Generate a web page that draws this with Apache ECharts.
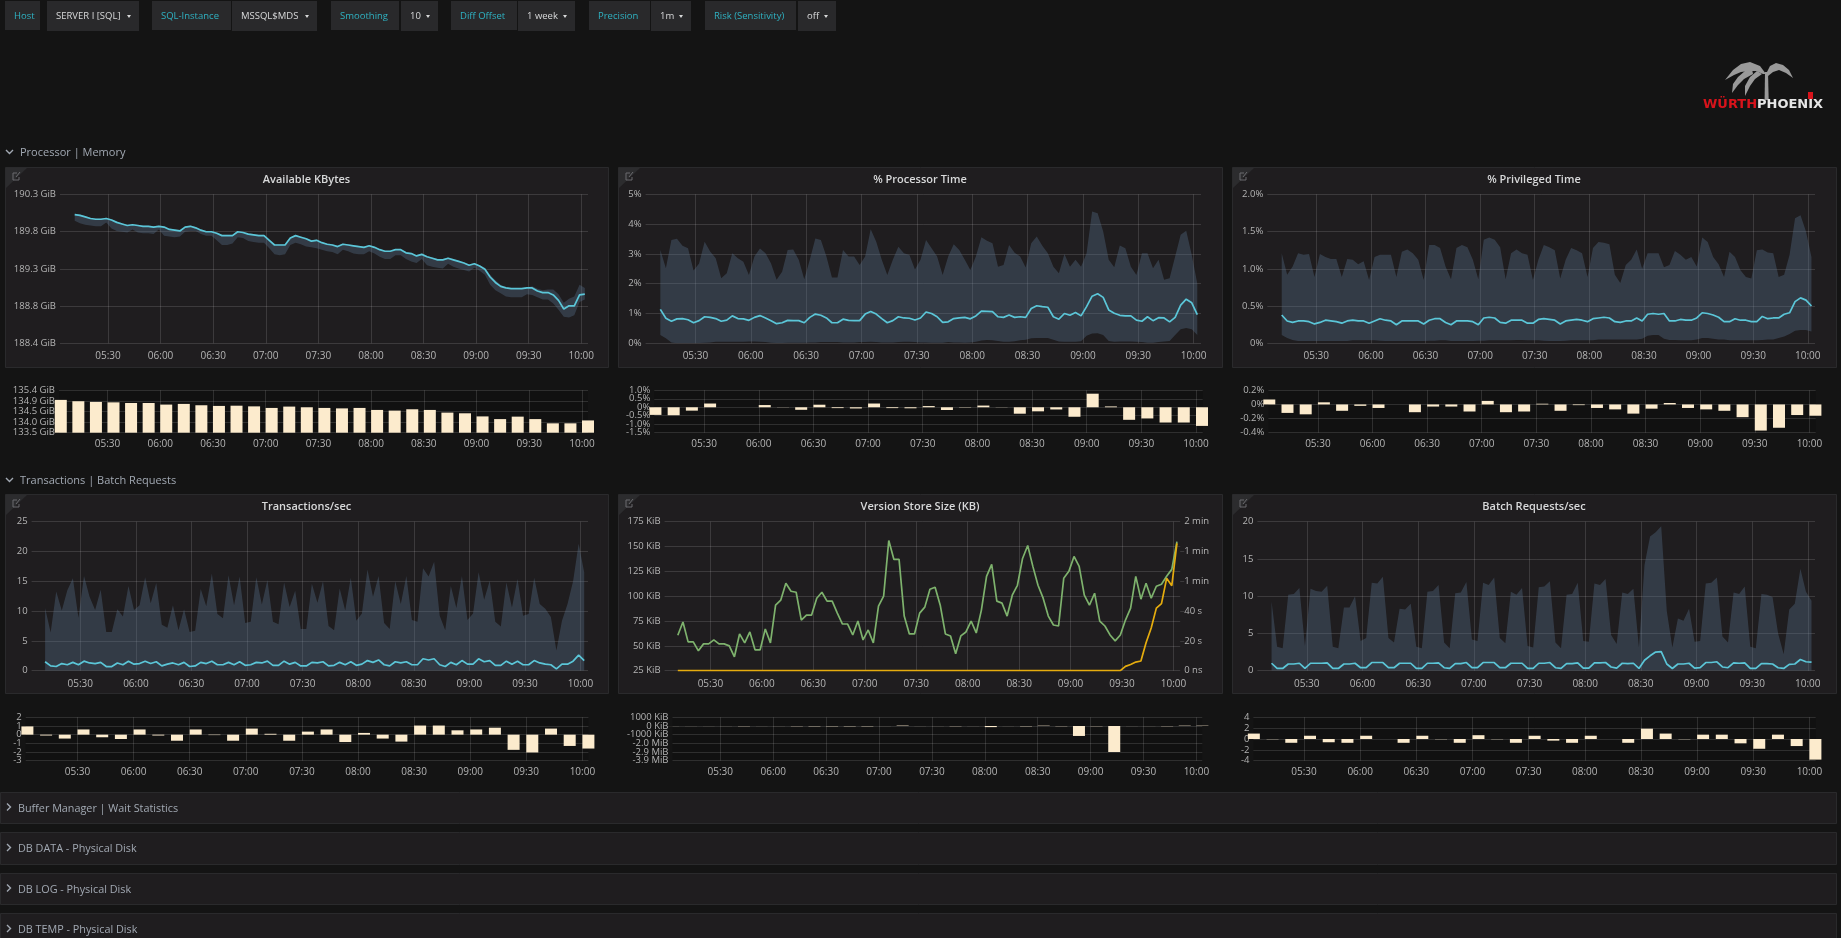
<!DOCTYPE html>
<html>
<head>
<meta charset="utf-8">
<title>SQL Server dashboard</title>
<script src="https://cdn.jsdelivr.net/npm/echarts@6/dist/echarts.min.js"></script>
<style>
html,body{margin:0;padding:0;background:#141414;overflow:hidden}
#main{width:1841px;height:938px}
</style>
</head>
<body>
<div id="main"></div>
<script>
// x ticks, minutes after midnight
var timeTicks = [330,360,390,420,450,480,510,540,570,600];
var timeLabels = ['05:30','06:00','06:30','07:00','07:30','08:00','08:30','09:00','09:30','10:00'];
var firstSample = 311, sampleStep = 3;
var firstBar = 300, barStep = 10;

var availTicks = [188.36,188.84,189.31,189.79,190.27];
var availLabels = ['188.4 GiB','188.8 GiB','189.3 GiB','189.8 GiB','190.3 GiB'];
var availLine = [190.01,190.00,189.98,189.96,189.95,189.95,189.96,189.94,189.91,189.89,
189.87,189.88,189.87,189.86,189.86,189.85,189.86,189.85,189.82,189.81,
189.80,189.85,189.86,189.84,189.81,189.79,189.79,189.77,189.74,189.74,
189.74,189.79,189.78,189.76,189.75,189.74,189.74,189.68,189.62,189.62,
189.62,189.71,189.74,189.72,189.70,189.67,189.68,189.65,189.63,189.62,
189.60,189.63,189.62,189.61,189.60,189.59,189.61,189.59,189.56,189.54,
189.54,189.56,189.56,189.52,189.51,189.48,189.50,189.47,189.45,189.43,
189.43,189.45,189.43,189.41,189.39,189.36,189.38,189.35,189.31,189.21,
189.14,189.09,189.07,189.06,189.06,189.06,189.07,189.07,189.03,189.01,
189.01,188.98,188.91,188.80,188.84,188.84,188.98,188.99];
var availUpper = [190.02,190.01,189.99,189.97,189.96,189.96,189.97,189.95,189.92,189.90,
189.88,189.89,189.88,189.87,189.87,189.86,189.87,189.86,189.83,189.82,
189.81,189.86,189.87,189.85,189.82,189.80,189.80,189.78,189.75,189.75,
189.75,189.80,189.79,189.77,189.76,189.75,189.75,189.69,189.63,189.63,
189.63,189.72,189.75,189.73,189.71,189.68,189.69,189.66,189.64,189.63,
189.61,189.64,189.63,189.62,189.61,189.60,189.62,189.60,189.57,189.55,
189.55,189.57,189.57,189.53,189.52,189.49,189.51,189.48,189.46,189.44,
189.44,189.46,189.44,189.42,189.40,189.37,189.39,189.36,189.33,189.24,
189.17,189.11,189.08,189.07,189.07,189.07,189.08,189.09,189.06,189.04,
189.05,189.05,188.99,188.88,188.93,188.96,189.11,189.07];
var availLower = [189.93,189.90,189.88,189.87,189.86,189.86,189.91,189.83,189.80,189.79,
189.78,189.82,189.78,189.77,189.77,189.76,189.82,189.74,189.73,189.72,
189.73,189.79,189.80,189.80,189.76,189.74,189.74,189.68,189.62,189.62,
189.64,189.72,189.71,189.67,189.66,189.65,189.65,189.58,189.50,189.49,
189.50,189.62,189.65,189.63,189.60,189.59,189.58,189.56,189.54,189.53,
189.50,189.56,189.54,189.51,189.50,189.50,189.54,189.51,189.47,189.44,
189.44,189.49,189.49,189.44,189.41,189.39,189.44,189.36,189.34,189.33,
189.32,189.38,189.34,189.32,189.30,189.28,189.33,189.29,189.24,189.11,
189.04,189.00,188.96,188.95,188.95,188.95,188.99,188.98,188.95,188.92,
188.92,188.87,188.79,188.70,188.69,188.72,188.89,188.92];
var availBarTicks = [133.5,133.97,134.46,134.92,135.4];
var availBarLabels = ['133.5 GiB','134.0 GiB','134.5 GiB','134.9 GiB','135.4 GiB'];
var availBars = [134.97,134.91,134.88,134.86,134.83,134.83,134.76,134.79,134.73,134.70,134.71,
134.68,134.61,134.67,134.64,134.61,134.59,134.61,134.52,134.49,134.55,
134.52,134.40,134.37,134.23,134.11,134.22,134.11,133.92,133.92,134.05];

var cpuTicks = [0,1,2,3,4,5];
var cpuLabels = ['0%','1%','2%','3%','4%','5%'];
var cpuLine = [1.14,.84,.74,.82,.83,.79,.69,.76,.89,.87,
.83,.74,.78,.92,.83,.82,.77,.87,.93,.85,
.76,.66,.69,.77,.76,.76,.69,.87,.98,.94,
.85,.69,.69,.81,.77,.76,.76,.98,1.07,.98,
.83,.69,.76,.89,.85,.84,.78,.85,1.05,1.0,
.89,.70,.72,.83,.85,.87,.82,.92,1.08,1.07,
1.06,.89,.87,.95,.87,.89,.87,1.17,1.26,1.23,
1.21,.89,.81,1.0,.94,1.03,.92,1.23,1.58,1.66,
1.54,1.12,1.01,.94,.92,.92,.78,.74,.89,.76,
.86,.85,.72,.87,1.28,1.48,1.36,.96];
var cpuUpper = [3.13,2.52,3.47,3.51,3.27,3.19,2.44,2.68,3.41,3.08,
2.85,2.18,2.35,3.02,2.85,2.74,2.29,2.91,3.18,3.02,
2.68,2.13,2.40,3.13,3.15,2.80,2.15,2.80,3.52,3.47,
2.91,2.21,2.21,3.13,2.91,2.91,2.63,2.91,3.83,3.41,
2.80,2.29,2.80,3.24,3.02,2.96,2.48,2.80,3.47,3.19,
2.91,2.29,2.91,3.32,3.13,2.80,2.46,2.91,3.56,3.44,
3.36,2.57,2.63,3.30,3.04,2.91,2.54,3.36,3.58,3.27,
3.02,2.57,2.35,3.0,2.57,2.80,2.57,3.02,4.42,4.36,
3.75,2.80,2.55,3.28,3.19,2.57,2.29,3.02,3.02,2.52,
2.80,2.13,2.18,2.91,3.64,3.78,2.96,2.01];
var cpuLower = [.28,.17,.03,0,0,0,0,.01,.02,.03,
.05,.05,.05,.05,.05,.05,.06,.06,.05,.04,
.02,.01,.01,.02,.02,.02,.02,.03,.03,.04,
.04,.04,.04,.03,.03,.03,.04,.04,.05,.04,
.03,.03,.03,.04,.05,.05,.04,.03,.03,.02,
.02,.02,.04,.03,.03,.02,.03,.05,.09,.11,
.10,.08,.05,.05,.07,.10,.12,.17,.18,.18,
.18,.12,.06,.05,.05,.05,.07,.25,.33,.34,
.28,.08,.05,.06,.06,.06,.05,.04,.02,.02,
.04,.06,.08,.28,.47,.51,.47,.28];
var cpuBarTicks = [-1.5,-1,-.5,0,.5,1];
var cpuBarLabels = ['-1.5%','-1.0%','-0.5%','0%','0.5%','1.0%'];
var cpuBars = [-.45,-.47,-.2,.22,0,0,.13,-.01,-.15,.15,-.05,
-.07,.22,-.05,-.06,.07,-.16,-.02,.1,-.01,-.38,
-.24,-.13,-.56,.8,.05,-.74,-.66,-.9,-.9,-1.1];

var privTicks = [0,.5,1,1.5,2];
var privLabels = ['0%','0.5%','1.0%','1.5%','2.0%'];
var privLine = [.38,.30,.28,.30,.30,.29,.26,.28,.31,.30,
.29,.27,.30,.31,.30,.30,.27,.30,.33,.31,
.30,.25,.30,.30,.30,.30,.26,.31,.33,.33,
.28,.25,.30,.30,.30,.29,.25,.34,.35,.34,
.28,.27,.31,.31,.31,.27,.27,.32,.33,.32,
.31,.26,.30,.31,.32,.31,.29,.33,.34,.35,
.34,.29,.28,.30,.30,.34,.30,.39,.40,.39,
.40,.30,.30,.32,.31,.31,.34,.41,.40,.38,
.35,.29,.29,.33,.31,.31,.29,.29,.36,.33,
.34,.34,.39,.41,.56,.61,.58,.50];
var privUpper = [1.21,.92,1.03,1.21,1.19,1.20,.89,1.20,1.16,1.13,
1.13,.89,1.13,1.12,1.06,1.10,.85,1.16,1.19,1.19,
1.19,.89,1.23,1.26,1.21,1.12,.85,1.32,1.32,1.28,
1.03,.86,1.28,1.32,1.29,1.12,.86,1.39,1.42,1.39,
1.29,.86,1.21,1.26,1.21,1.19,.85,1.12,1.32,1.29,
1.25,.87,1.12,1.28,1.25,1.21,.89,1.28,1.36,1.35,
1.33,.92,.81,1.05,1.12,1.26,1.0,1.21,1.21,1.21,
1.02,1.05,1.24,1.19,1.12,1.16,1.03,1.42,1.36,1.16,
1.06,.89,1.23,1.16,.98,.89,.87,1.25,1.26,1.22,
1.21,.89,.92,1.19,1.68,1.72,1.50,1.16];
var privLower = [.11,.07,.045,.03,.03,.03,.03,.03,.03,.03,
.03,.03,.03,.04,.04,.04,.04,.04,.035,.03,
.03,.03,.03,.03,.03,.03,.03,.035,.035,.04,
.04,.03,.03,.03,.03,.03,.035,.035,.04,.04,
.04,.04,.04,.045,.045,.04,.04,.04,.035,.03,
.03,.03,.035,.04,.04,.04,.04,.04,.05,.05,
.05,.05,.05,.05,.05,.05,.06,.10,.11,.11,
.06,.045,.045,.04,.04,.04,.05,.07,.07,.06,
.05,.05,.04,.04,.04,.04,.04,.04,.045,.05,
.05,.07,.09,.125,.17,.18,.18,.16];
var privBarTicks = [-.4,-.2,0,.2];
var privBarLabels = ['-0.4%','-0.2%','0%','0.2%'];
var privBars = [.07,-.12,-.14,.03,-.09,-.02,-.05,0,-.11,-.03,-.03,
-.1,.05,-.11,-.1,.01,-.09,-.01,-.05,-.07,-.13,
-.06,.02,-.05,-.07,-.09,-.18,-.37,-.33,-.15,-.16];

var txTicks = [0,5,10,15,20,25];
var txLabels = ['0','5','10','15','20','25'];
var txLine = [1.5,.8,.7,1.2,1.0,1.4,1.0,1.6,1.3,1.2,
1.4,.7,.7,1.3,1.0,1.6,1.1,1.2,1.6,1.2,
1.5,.8,1.1,1.3,1.0,1.4,.7,.8,1.4,1.2,
1.6,1.0,1.0,1.4,1.0,1.5,.9,1,1.4,1.3,
1.6,.9,.9,1.6,1.1,1.4,.8,.8,1.4,1.3,
1.5,.8,.9,1.4,1,1.5,.9,1.1,1.7,1.4,
1.8,1.0,.8,1.5,1.3,1.5,1.0,1.0,2.0,1.8,
2.0,1,.7,1.4,1,1.7,1.1,1.1,2.0,1.5,
1.7,.9,.9,1.6,1.1,1.6,1.0,1.0,1.7,1.3,
1.1,1.0,.3,1.1,1.1,1.6,2.6,1.7];
var txUpper = [10.5,6.4,13.3,10.1,13.5,15.5,8.9,15.9,12.4,10.2,
13.6,6.5,6.5,10.3,9.1,14.2,10.2,11.0,15.7,11.3,
14.7,7.7,7.2,11,6.8,10.3,6.5,6.7,13.7,10.8,
16.3,9.5,8.8,16,11,15.8,8,8.2,15.7,11.1,
15.2,8.2,7.8,14.8,10.7,13.4,7,7,14.6,11.4,
15,7.5,6.8,13.8,10.1,15.6,8.4,9.6,17,12.4,
15.9,8,7,15,11.2,15.9,8.5,8.2,17.2,15.8,
18.3,9.2,6.8,14.2,10.5,15.9,8.5,9.6,16.5,11.9,
15.1,8.2,7.4,14.8,10.6,15.4,9.2,9.5,15.6,11.2,
10.4,9,3.4,8.4,11.2,15,21.3,16.5];
var txBarTicks = [-3,-2,-1,0,1,2];
var txBarLabels = ['-3','-2','-1','0','1','2'];
var txBars = [.95,-.1,-.45,.6,-.3,-.5,.6,-.1,-.7,.6,-.05,
-.7,.7,.1,-.7,.35,.6,-.85,.2,-.45,-.8,
1.05,1.05,.5,.6,.8,-1.75,-2.05,.7,-1.3,-1.6];

var versionTicks = [25,50,75,100,125,150,175];
var versionLabels = ['25 KiB','50 KiB','75 KiB','100 KiB','125 KiB','150 KiB','175 KiB'];
var waitTicks = [0,20,40,60,80,100];
var waitLabels = ['0 ns','20 s','40 s','1 min','1 min','2 min'];
var versionLine = [60.7,74,54,54,45,52,52,56,52,52,
50,39,62,53,64,46,46,67,53,91,
96,113,105,104,76,81,81,98,104,95,
95,83,72,72,61,75,56,66,53,90,
100,156,137,137,80,62,62,83,89,107,
109,91,62,60,42,60,64,75,63,86,
120,132,95,93,80,101,111,138,151,130,
111,98,80,71,70,118,125,140,130,101,
91,103,75,70,61,55,61,76,88,120,
97,113,98,110,112,120,127,155];
var waitLine = [0,0,0,0,0,0,0,0,0,0,
0,0,0,0,0,0,0,0,0,0,
0,0,0,0,0,0,0,0,0,0,
0,0,0,0,0,0,0,0,0,0,
0,0,0,0,0,0,0,0,0,0,
0,0,0,0,0,0,0,0,0,0,
0,0,0,0,0,0,0,0,0,0,
0,0,0,0,0,0,0,0,0,0,
0,0,0,0,0,0,0,2.9,4.2,5.8,
6.5,18.7,28.7,42,45,62,57,85.5];
var versionBarTicks = [-4000,-3000,-2000,-1000,0,1000];
var versionBarLabels = ['-3.9 MiB','-2.9 MiB','-2.0 MiB','-1000 KiB','0 KiB','1000 KiB'];
var versionBars = [-10,-10,-10,-10,-30,-10,-10,-30,-40,-40,-40,
-40,-10,50,-10,-10,-30,-10,-130,-10,-40,
40,-30,-1150,-30,-3000,-10,-10,-30,40,40];

var batchTicks = [0,5,10,15,20];
var batchLabels = ['0','5','10','15','20'];
var batchLine = [1.0,.3,.3,.9,.9,1.0,.3,1.0,1.0,1.0,
1.05,.3,.3,.9,.9,1.0,.4,.4,1.1,1.1,
1.1,.4,.4,1.0,1.0,1.0,.3,.3,1.0,1.0,
1.05,.4,.3,.95,.95,1.1,.4,.4,1.1,1.1,
1.1,.4,.4,1,1,1.0,.3,.3,1,1,
1.1,.4,.3,.95,.95,1.05,.35,.35,1.05,1.05,
1.1,.5,.35,1.0,.95,1.0,.3,1.4,2.0,2.5,
2.55,.9,.3,.9,.9,1.0,.35,.4,1.1,1.1,
1.2,.5,.4,1.05,1.0,1.05,.3,.3,.95,.95,
.9,.4,.3,.85,.9,1.5,1.2,1.15];
var batchUpper = [9.3,3.2,3.0,10.2,10.3,11.1,3.3,11,10.7,10.6,
11.4,3.2,3,8.5,8.5,10,4,4.4,11.8,11.7,
12.6,4.4,3.8,8.3,8.2,9,3.2,3,10.6,10.7,
11.5,3.8,3,10.4,10.5,11.9,4.2,4,11.8,11.5,
12.5,4.4,3.7,10.6,10.2,11.1,3.3,3.1,11.2,11.3,
12,3.8,3,10.2,10.3,11.8,4,3.9,11.7,11.5,
12.3,4.8,3.6,10.5,10.3,11,3.1,14.2,18,18.6,
19.4,8,3.1,7,6.7,8.3,3.9,4,11.7,11.8,
12.5,4.6,3.8,10.5,10.3,11.3,3.2,3,10.3,10.2,
9.9,5,2.2,8.2,9,13.7,10.6,9.4];
var batchBarTicks = [-4,-2,0,2,4];
var batchBarLabels = ['-4','-2','0','2','4'];
var batchBars = [1.0,-.05,-.7,.6,-.6,-.7,.6,0,-.7,.6,-.05,
-.7,.7,-.05,-.7,.6,-.3,-.7,.6,0,-.7,
1.9,1,-.05,.8,.8,-.8,-1.8,.8,-1.3,-3.8];

var toolbarLabels = ['Host','SQL-Instance','Smoothing','Diff Offset','Precision','Risk (Sensitivity)'];
var toolbarValues = ['SERVER I [SQL]','MSSQL$MDS','10','1 week','1m','off'];
var collapsedRows = ['Buffer Manager | Wait Statistics','DB DATA - Physical Disk','DB LOG - Physical Disk','DB TEMP - Physical Disk'];

var COLORS = {grid:'rgba(255,255,255,0.13)', text:'#b4b4b4', band:'rgba(88,113,140,0.36)', line:'#5bc6d8', bar:'#fcebcd',
	panel:'#1f1d1f', border:'#2a2a2c', tile:'#29292b', teal:'#2fb2c2', light:'#d8d9da', row:'#a2a9b3'};
var FONT = '"Open Sans", sans-serif';

// where things sit on the page
var toolbarBoxes = [[5,40,47,139],[152,231,232,317],[331,399,401,438],[451,517,518,575],[589,650,651,691],[705,796,798,836]];
var rowBoxes = [[792,31],[832,32],[873,31],[913,40]];
var palmShapes = [
	[[1766,74],[1760,66],[1750,62],[1741,64],[1733,70],[1725,80],[1734,75],[1741,72],[1749,71],[1756,71],[1763,74]],
	[[1752,69],[1745,71],[1738,77],[1733,84],[1732,93],[1738,85],[1744,79],[1753,74]],
	[[1757,71],[1750,77],[1745,86],[1745,96],[1750,86],[1755,79],[1762,74]],
	[[1765,72],[1768,72],[1768.7,100],[1764.6,100]],
	[[1766,74],[1770,66],[1776,63],[1783,65],[1789,70],[1793,78],[1786,73],[1779,70],[1773,72],[1768,76]]
];

var grids = [], xAxes = [], yAxes = [], series = [], titles = [], graphics = [];

function nearestLabel(ticks, labels, value){
	var best = 0;
	for(var i=0;i<ticks.length;i++){
		if(Math.abs(ticks[i]-value) < Math.abs(ticks[best]-value)) best = i;
	}
	return labels[best];
}

function addGrid(box, margin, background){
	// box: left, right, top, bottom, x of 05:30, x of 10:00
	var perMin = (box[5]-box[4])/270;
	var idx = grids.length;
	var xMin = 330-(box[4]-box[0])/perMin;
	var xMax = 600+(box[1]-box[5])/perMin;
	grids.push({left:box[0], top:box[2], width:box[1]-box[0], height:box[3]-box[2],
		show:!!background, backgroundColor:background||'transparent', borderWidth:0});
	xAxes.push({
		type:'value', gridIndex:idx, min:xMin, max:xMax, scale:true,
		axisLine:{show:false},
		axisTick:{show:false, customValues:timeTicks},
		axisLabel:{customValues:timeTicks, color:COLORS.text, fontSize:10, fontFamily:FONT, margin:margin, showMinLabel:true, showMaxLabel:true,
			formatter:function(v){ return nearestLabel(timeTicks,timeLabels,v); }},
		splitLine:{show:true, lineStyle:{color:COLORS.grid, width:1}}
	});
	return {index:idx, perMin:perMin};
}

function addY(idx, ticks, labels, position, margin){
	var right = position === 'right';
	// first and last label are doubled and the copies hidden, otherwise
	// echarts drops the neighbour of a min/max label that touches it
	var labelValues = [ticks[0]].concat(ticks, [ticks[ticks.length-1]]);
	yAxes.push({
		type:'value', gridIndex:idx, position:position, min:ticks[0], max:ticks[ticks.length-1], scale:true,
		axisLine:{show:false},
		axisTick:{show:right, length:4, lineStyle:{color:COLORS.grid}, customValues:ticks},
		axisLabel:{customValues:labelValues, color:COLORS.text, fontSize:9.5, fontFamily:FONT, margin:margin, showMinLabel:false, showMaxLabel:false,
			formatter:function(v){ return nearestLabel(ticks,labels,v); }},
		splitLine:{show:!right, lineStyle:{color:COLORS.grid, width:1}}
	});
	return yAxes.length-1;
}

function points(values){
	return values.map(function(v,i){ return [firstSample+sampleStep*i, v]; });
}

function lineSeries(g, y, values, color){
	series.push({type:'line', xAxisIndex:g, yAxisIndex:y, data:points(values), showSymbol:false, silent:true,
		lineStyle:{color:color, width:1.7}, itemStyle:{color:color}, z:5});
}

function bandSeries(g, y, upper, lower){
	if(lower){
		// one polygon between the two curves, stacking does not work on a value x axis
		var upperPts = points(upper), lowerPts = points(lower);
		series.push({type:'custom', xAxisIndex:g, yAxisIndex:y, data:[lowerPts[0]], silent:true, clip:true, z:3,
			encode:{x:0, y:1},
			renderItem:function(params, api){
				var outline = upperPts.concat(lowerPts.slice().reverse()).map(function(p){ return api.coord(p); });
				return {type:'polygon', shape:{points:outline}, style:{fill:COLORS.band}};
			}});
	}else{
		series.push({type:'line', xAxisIndex:g, yAxisIndex:y, data:points(upper), showSymbol:false, silent:true, lineStyle:{width:0, opacity:0}, areaStyle:{color:COLORS.band, opacity:1}, z:3});
	}
}

function addBars(box, ticks, labels, values){
	var g = addGrid(box, 6, '#111111');
	var y = addY(g.index, ticks, labels, 'left', 4);
	// bars start at their time stamp, so shift by half a bar
	var shift = 6/g.perMin;
	var data = values.map(function(v,i){ return [firstBar+barStep*i+shift, v]; });
	series.push({type:'bar', xAxisIndex:g.index, yAxisIndex:y, data:data, barWidth:12, silent:true, clip:true,
		itemStyle:{color:COLORS.bar}});
}

function addPanel(frame, title){
	var x = frame[0], y = frame[1];
	graphics.push({type:'rect', z:-2, shape:{x:x+.5, y:y+.5, width:frame[2]-x, height:frame[3]-y},
		style:{fill:COLORS.panel, stroke:COLORS.border, lineWidth:1}});
	graphics.push({type:'polygon', z:-1, shape:{points:[[x+1,y+1],[x+22,y+1],[x+1,y+21]]}, style:{fill:'#2c2c2e'}});
	graphics.push({type:'polyline', z:-1, shape:{points:[[x+12,y+6],[x+8,y+6],[x+8,y+13],[x+14,y+13],[x+14,y+10]]}, style:{fill:null, stroke:'#6b6b6e', lineWidth:1}});
	graphics.push({type:'polyline', z:-1, shape:{points:[[x+11,y+10],[x+15,y+5]]}, style:{fill:null, stroke:'#6b6b6e', lineWidth:1}});
	titles.push({text:title, left:(frame[0]+frame[2])/2, top:y+7, padding:0, textAlign:'center',
		textStyle:{color:COLORS.light, fontSize:11, fontWeight:600, fontFamily:FONT}});
}

function addText(text, x, y, color, size, weight, family){
	graphics.push({type:'text', style:{text:text, x:x, y:y, fill:color, fontSize:size, fontWeight:weight||'normal', fontFamily:family||FONT, verticalAlign:'middle', textAlign:'left'}});
}

function addChevron(x, y, open){
	var pts = open ? [[x,y],[x+3.5,y+3.5],[x+7,y]] : [[x,y],[x+3.5,y+3.5],[x,y+7]];
	graphics.push({type:'polyline', shape:{points:pts}, style:{stroke:COLORS.row, lineWidth:1.4, fill:null}});
}

function addChrome(){
	toolbarBoxes.forEach(function(b,i){
		graphics.push({type:'rect', z:-1, shape:{x:b[0], y:1, width:b[1]-b[0], height:29}, style:{fill:COLORS.tile}});
		graphics.push({type:'rect', z:-1, shape:{x:b[2], y:1, width:b[3]-b[2], height:30}, style:{fill:COLORS.tile}});
		addText(toolbarLabels[i], b[0]+9, 16, COLORS.teal, 9.5);
		addText(toolbarValues[i], b[2]+9, 16, COLORS.light, 9.5);
		graphics.push({type:'polygon', shape:{points:[[b[3]-12,15],[b[3]-8,15],[b[3]-10,18]]}, style:{fill:COLORS.light}});
	});
	addChevron(6,150,true);
	addText('Processor | Memory', 20, 152.5, COLORS.row, 11);
	addChevron(6,478,true);
	addText('Transactions | Batch Requests', 20, 480.5, COLORS.row, 11);
	rowBoxes.forEach(function(r,i){
		graphics.push({type:'rect', z:-1, shape:{x:.5, y:r[0]+.5, width:1836, height:r[1]}, style:{fill:COLORS.panel, stroke:COLORS.border, lineWidth:1}});
		addChevron(7,r[0]+(i===3?12:r[1]/2-4),false);
		addText(collapsedRows[i], 18, r[0]+(i===3?17:r[1]/2+1), COLORS.row, 10.8);
	});
	// logo
	palmShapes.forEach(function(p){
		graphics.push({type:'polygon', shape:{points:p}, style:{fill:'#9a9a9a'}});
	});
	graphics.push({type:'rect', shape:{x:1808, y:92, width:5, height:7}, style:{fill:'#d8131b'}});
	addText('WÜRTH', 1703, 105, '#d8131b', 13, 'bold', 'DejaVu Sans');
	addText('PHOENIX', 1757, 105, '#e6e6e6', 13, 'bold', 'DejaVu Sans');
}

function buildOption(){
	var g, y;
	addChrome();

	addPanel([5,167,608,367],'Available KBytes');
	g = addGrid([60,588,194.3,343.3,108,581.3],8);
	y = addY(g.index, availTicks, availLabels, 'left', 4);
	bandSeries(g.index, y, availUpper, availLower);
	lineSeries(g.index, y, availLine, COLORS.line);
	addBars([59,588,390.3,432.7,107.5,582], availBarTicks, availBarLabels, availBars);

	addPanel([618,167,1222,367],'% Processor Time');
	g = addGrid([645.6,1201,194.3,343.3,695.4,1193.6],8);
	y = addY(g.index, cpuTicks, cpuLabels, 'left', 4);
	bandSeries(g.index, y, cpuUpper, cpuLower);
	lineSeries(g.index, y, cpuLine, COLORS.line);
	addBars([654.3,1202.7,390.3,432.7,704.1,1196], cpuBarTicks, cpuBarLabels, cpuBars);

	addPanel([1232,167,1836,367],'% Privileged Time');
	g = addGrid([1267.3,1815,194.3,343.3,1316.3,1807.8],8);
	y = addY(g.index, privTicks, privLabels, 'left', 4);
	bandSeries(g.index, y, privUpper, privLower);
	lineSeries(g.index, y, privLine, COLORS.line);
	addBars([1268.4,1815.7,390.3,432.7,1317.9,1809.4], privBarTicks, privBarLabels, privBars);

	addPanel([5,494,608,693],'Transactions/sec');
	g = addGrid([31.6,588,521.7,670.7,80.3,580.5],8);
	y = addY(g.index, txTicks, txLabels, 'left', 4);
	bandSeries(g.index, y, txUpper);
	lineSeries(g.index, y, txLine, COLORS.line);
	addBars([25.7,588.4,717.3,760.7,77.5,582.4], txBarTicks, txBarLabels, txBars);

	addPanel([618,494,1222,693],'Version Store Size (KB)');
	g = addGrid([664.6,1180.2,521.7,670.7,710.4,1173.5],8);
	y = addY(g.index, versionTicks, versionLabels, 'left', 4);
	lineSeries(g.index, y, versionLine, '#7eb26d');
	y = addY(g.index, waitTicks, waitLabels, 'right', 4);
	lineSeries(g.index, y, waitLine, '#e5ac0e');
	addBars([672.5,1202.3,717.3,760.7,720.3,1196.4], versionBarTicks, versionBarLabels, versionBars);

	addPanel([1232,494,1836,693],'Batch Requests/sec');
	g = addGrid([1257.4,1815,521.7,670.7,1306.8,1807.8],8);
	y = addY(g.index, batchTicks, batchLabels, 'left', 4);
	bandSeries(g.index, y, batchUpper);
	lineSeries(g.index, y, batchLine, COLORS.line);
	addBars([1253.4,1815.7,717.3,760.7,1304,1809.4], batchBarTicks, batchBarLabels, batchBars);

	return {
		backgroundColor:'#141414',
		animation:false,
		textStyle:{fontFamily:FONT},
		title:titles,
		grid:grids,
		xAxis:xAxes,
		yAxis:yAxes,
		series:series,
		graphic:{elements:graphics}
	};
}

var myChart = echarts.init(document.getElementById('main'));
myChart.setOption(buildOption());
</script>
</body>
</html>
